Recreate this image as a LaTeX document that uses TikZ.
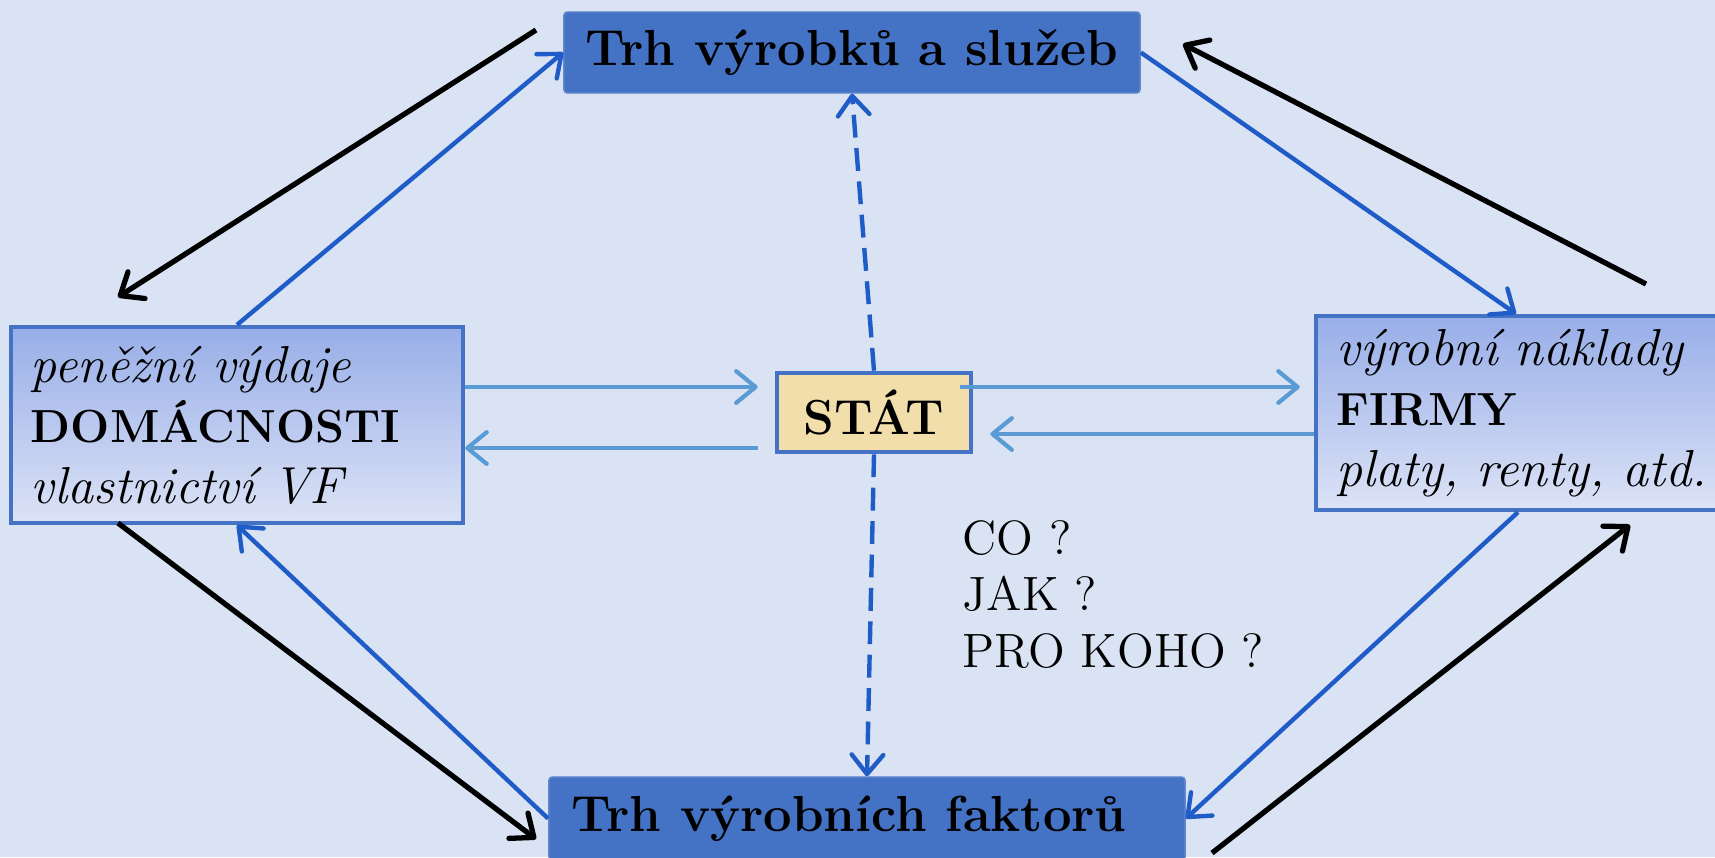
\documentclass[tikz,border=0pt]{standalone}
\usepackage{fontspec}
\usetikzlibrary{arrows.meta}
\definecolor{pozadi}{RGB}{218,227,243}
\definecolor{trhmodra}{RGB}{68,114,196}
\definecolor{tmavemodra}{RGB}{32,92,200}
\definecolor{svetlemodra}{RGB}{91,155,213}
\definecolor{sektorhore}{RGB}{152,174,232}
\definecolor{sektordole}{RGB}{220,227,246}
\definecolor{papir}{RGB}{241,222,170}
\newcommand{\tucne}[1]{\textbf{\fontsize{13.2}{17.6}\selectfont #1}}

\begin{document}
\begin{tikzpicture}[x=0.01cm,y=-0.01cm]
        \tikzstyle{every node}+=[inner sep=0pt,font=\fontsize{13.7}{16}\selectfont]
        \tikzstyle{trh}=[fill=trhmodra,draw=trhmodra!85!white,rounded corners=1pt,font=\fontsize{14.4}{16}\selectfont\bfseries]
        \tikzstyle{sektor}=[draw=trhmodra,line width=1.2pt,top color=sektorhore,bottom color=sektordole,align=left,font=\fontsize{14.8}{17.2}\selectfont]
        \tikzstyle{stat}=[draw=trhmodra,line width=1.3pt,fill=papir,font=\fontsize{14}{16}\selectfont\bfseries]
        \tikzstyle{hrot}=[-{Straight Barb[round,length=5.5pt,width=9pt]}]
        \tikzstyle{cerna}=[hrot,black,line width=1.5pt]
        \tikzstyle{modra}=[hrot,tmavemodra,line width=1.25pt]
        \tikzstyle{svetla}=[hrot,svetlemodra,line width=1.2pt]
        \tikzstyle{carkovana}=[hrot,tmavemodra,line width=1.25pt,dash pattern=on 6.5pt off 3pt]
        \useasboundingbox[fill=pozadi] (0,0) rectangle (1715,857);
        \node[trh,minimum width=5.76cm,minimum height=0.81cm] (tv) at (852,52.5) {Trh výrobků a služeb};
        \node[trh,minimum width=6.36cm,minimum height=0.83cm] (tf) at (867,818.5) {Trh výrobních faktorů\hspace*{0.36cm}};
        \node[sektor,minimum width=4.52cm,minimum height=1.96cm,text width=4.12cm] (hh) at (237,425) {\textit{peněžní výdaje}\\\tucne{DOMÁCNOSTI}\\\textit{vlastnictví VF}};
        \node[sektor,minimum width=4.3cm,minimum height=1.94cm,text width=3.88cm] (fi) at (1531,413) {\textit{výrobní náklady}\\\tucne{FIRMY}\\\textit{platy, renty, atd.}};
        \node[stat,minimum width=1.94cm,minimum height=0.79cm] (st) at (874,412.5) {STÁT};
        \node[anchor=north west,align=left] (otazky) at (962,520) {CO ?\\JAK ?\\PRO KOHO ?};
        \coordinate (a1) at (536,30);
        \coordinate (a1k) at (118,297);
        \coordinate (a2) at (1646,284);
        \coordinate (a2k) at (1183,44);
        \coordinate (a3) at (118,523);
        \coordinate (a3k) at (536,839);
        \coordinate (a4) at (1212,853);
        \coordinate (a4k) at (1630,525);
        \draw[cerna] (a1) -- (a1k);
        \draw[cerna] (a2) -- (a2k);
        \draw[cerna] (a3) -- (a3k);
        \draw[cerna] (a4) -- (a4k);
        \draw[modra] (hh.north) -- (tv.west);
        \draw[modra] (tv.east) -- ([xshift=-0.15cm]fi.north);
        \draw[modra] (tf.west) -- (hh.south);
        \draw[modra] ([xshift=-0.13cm]fi.south) -- (tf.east);
        \draw[svetla,shorten >=0.17cm] ([yshift=0.38cm]hh.east) -- ([yshift=0.38cm]hh.east -| st.west);
        \draw[svetla,shorten <=0.17cm] ([yshift=-0.23cm]hh.east -| st.west) -- ([yshift=-0.23cm]hh.east);
        \draw[svetla,shorten <=-0.13cm,shorten >=0.14cm] ([yshift=0.26cm]fi.west -| st.east) -- ([yshift=0.26cm]fi.west);
        \draw[svetla,shorten >=0.17cm] ([yshift=-0.21cm]fi.west) -- ([yshift=-0.21cm]fi.west -| st.east);
        \draw[carkovana] (st.north) -- (tv.south);
        \draw[carkovana] (st.south) -- (tf.north);
        \end{tikzpicture}
\end{document}
